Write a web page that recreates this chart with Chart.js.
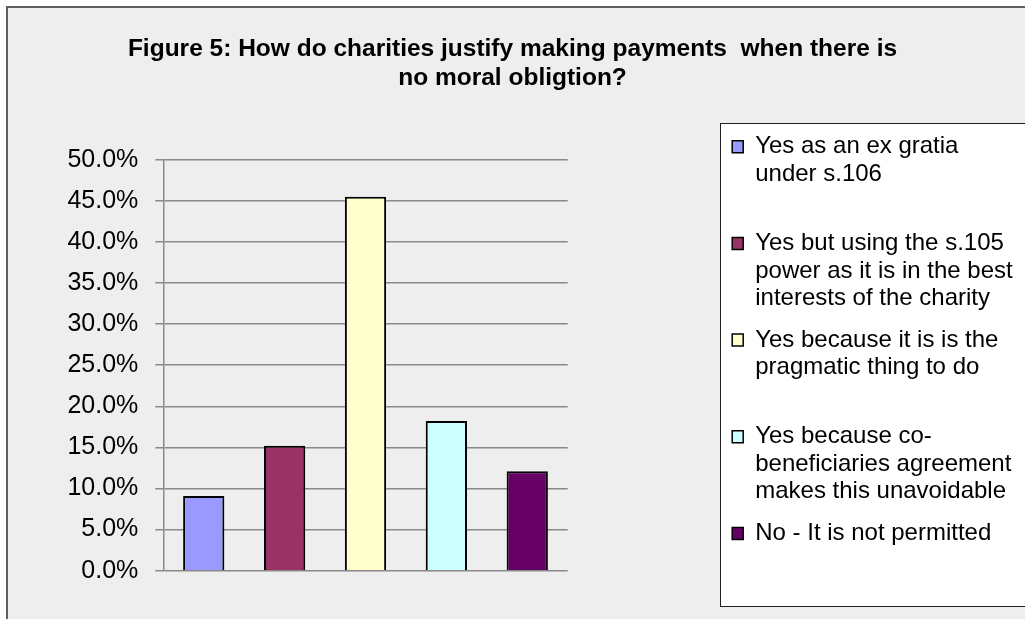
<!DOCTYPE html>
<html><head><meta charset="utf-8">
<script src="https://cdn.jsdelivr.net/npm/chart.js@4.4.1/dist/chart.umd.min.js"></script>
<style>
html,body{margin:0;padding:0;background:#fff;overflow:hidden;width:1025px;height:619px;}
#frame{position:absolute;left:6px;top:6px;width:1100px;height:700px;background:#eeeeee;border-left:2px solid #5e5e5e;border-top:2px solid #5e5e5e;}
#c{position:absolute;left:0;top:0;}
</style></head><body>
<div id="frame"></div>
<canvas id="c" width="1025" height="619"></canvas>
<script>
const titleLines = ['Figure 5: How do charities justify making payments  when there is', 'no moral obligtion?'];
const categories = [
  'Yes as an ex gratia under s.106',
  'Yes but using the s.105 power as it is in the best interests of the charity',
  'Yes because it is is the pragmatic thing to do',
  'Yes because co-beneficiaries agreement makes this unavoidable',
  'No - It is not permitted'
];
const legendLines = [
  ['Yes as an ex gratia', 'under s.106', ''],
  ['Yes but using the s.105', 'power as it is in the best', 'interests of the charity'],
  ['Yes because it is is the', 'pragmatic thing to do', ''],
  ['Yes because co-', 'beneficiaries agreement', 'makes this unavoidable'],
  ['No - It is not permitted']
];
const values = [9.1, 15.2, 45.5, 18.2, 12.1];
const barColors = ['#9999FF', '#993366', '#FFFFCC', '#CCFFFF', '#660066'];
const yMin = 0, yMax = 50, yStep = 5;

const FONT = "'Liberation Sans', Arial, Helvetica, sans-serif";

const legendBox = {
  id: 'legendBox',
  beforeDraw(chart) {
    const lg = chart.legend;
    if (!lg || !lg.legendHitBoxes || !lg.legendHitBoxes.length) return;
    const ctx = chart.ctx;
    const x = Math.round(lg.left) + 2;
    const top = Math.round(lg.legendHitBoxes[0].top - 11.5);
    const bottom = Math.round(lg.bottom);
    ctx.save();
    ctx.fillStyle = '#ffffff';
    ctx.fillRect(x, top, 1040 - x, bottom - top);
    ctx.strokeStyle = '#1e1e1e';
    ctx.lineWidth = 1;
    ctx.strokeRect(x + 0.5, top + 0.5, 1040 - x, bottom - top - 1);
    ctx.restore();
  }
};

new Chart(document.getElementById('c'), {
  type: 'bar',
  data: {
    labels: categories,
    datasets: [{
      data: values,
      backgroundColor: barColors,
      borderColor: '#000000',
      borderWidth: 2,
      barPercentage: 0.51,
      categoryPercentage: 1.0
    }]
  },
  options: {
    responsive: false,
    animation: false,
    devicePixelRatio: 1,
    layout: { padding: { left: 6, right: 6, top: 0, bottom: 12 } },
    plugins: {
      tooltip: { enabled: false },
      title: {
        display: true,
        text: titleLines,
        color: '#000',
        font: { family: FONT, size: 24.5, weight: 'bold', lineHeight: 1.17 },
        padding: { top: 35.3, bottom: 67.1 }
      },
      legend: {
        display: true,
        position: 'right',
        align: 'start',
        maxWidth: 301,
        title: { display: true, text: ' ', font: { size: 10, lineHeight: 1 }, padding: { top: 110.5, bottom: 0 } },
        labels: {
          boxWidth: 11,
          boxHeight: 12,
          padding: 14.2,
          color: '#000',
          font: { family: FONT, size: 24, lineHeight: 1.146 },
          generateLabels(chart) {
            return legendLines.map((lines, i) => ({
              text: lines,
              fillStyle: barColors[i],
              strokeStyle: '#000',
              fontColor: '#000',
              lineWidth: 1.5,
              hidden: false,
              index: i,
              datasetIndex: 0
            }));
          }
        }
      }
    },
    scales: {
      x: {
        type: 'category',
        grid: { display: false },
        border: { display: false },
        ticks: { display: false },
        afterFit(s) { s.height = 36.3; }
      },
      y: {
        min: yMin,
        max: yMax,
        ticks: {
          stepSize: yStep,
          color: '#000',
          padding: 17,
          font: { family: FONT, size: 25 },
          callback: v => v.toFixed(1) + '%'
        },
        grid: { color: '#898989', lineWidth: 1.5, tickLength: 8, drawTicks: true },
        border: { display: true, color: '#898989', width: 1.5 },
        afterFit(s) { s.width = 157.3; }
      },
      y2: {
        position: 'right',
        grid: { display: false },
        border: { display: false },
        ticks: { display: false },
        afterFit(s) { s.width = 150.3; }
      }
    }
  },
  plugins: [legendBox]
});
</script>
</body></html>
